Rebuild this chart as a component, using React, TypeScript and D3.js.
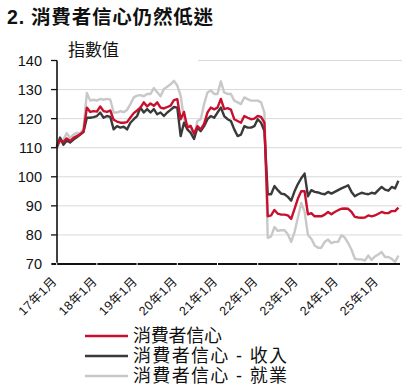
import React from "react";
import * as d3 from "d3";

// Monthly data, 2017-01 (index 0) to 2025-07 (index 102)
const consumer: number[] = [
  110.5, 112.5, 112, 113.2, 112.3, 113.4, 114, 114.6, 115.6, 123.8, 122.3, 122.6,
  122.4, 124.2, 122.6, 122.3, 122.8, 119.6, 119, 118.6, 118.6, 118.8, 120.4, 121.9,
  122.8, 123.8, 125.6, 124.2, 125.2, 124.4, 125.6, 123.8, 123.5, 124, 124.5, 126.4,
  126.7, 119.8, 122.3, 116.9, 117.5, 114.8, 117.4, 116.3, 118.2, 122.1, 123.8, 123.2,
  123.8, 126.8, 123.3, 123.6, 123.1, 119.8, 119.2, 118.6, 120.9, 120.3, 119.8, 120,
  120.9, 120.6, 118.6, 86.4, 86.7, 88.6, 87.3, 87, 87, 86.7, 85.5, 89,
  92.5, 95, 95, 87.1, 87.5, 86.4, 86.4, 86.4, 87, 87.9, 87.1, 87.9,
  88.5, 89, 89.1, 89, 87.9, 86.2, 86, 85.9, 86, 86.7, 86.4, 86.7,
  87.3, 87.9, 87.5, 87.5, 88.2, 88.2, 89.4,
];
const income: number[] = [
  110, 113.5, 111, 112.5, 111.8, 112.8, 113.6, 114.5, 115.4, 120.3, 120.3, 120.5,
  120.9, 122.1, 120.3, 120.9, 120.6, 116.3, 117.4, 116.9, 117.2, 116.3, 118.6, 119.8,
  120.9, 123.8, 122.1, 123.3, 122.1, 123.3, 121.5, 122.1, 120.9, 122.1, 123, 124,
  123.8, 114, 118.6, 116.3, 115.1, 113, 116.9, 115.7, 117.4, 119.8, 120.9, 120.3,
  122.1, 123.8, 120.9, 119.8, 119.2, 116.3, 114, 114.5, 117.4, 116.9, 116.9, 117.4,
  119.8, 118.6, 115.7, 94, 94, 96.8, 95.4, 94.2, 94, 93.1, 91.8, 95,
  97.5, 99.5, 101.1, 93.3, 95.4, 94.8, 94.6, 94.2, 94, 94.8, 94.2, 94.8,
  95.4, 96, 96.5, 97.1, 94.8, 93.3, 94, 94.5, 94.2, 94, 94.5, 94.2,
  95.4, 96.5, 95.6, 95.2, 96.5, 96, 98.6,
];
const employment: number[] = [
  109.5, 112.2, 112.8, 115, 113.4, 114.5, 115.1, 115, 116.5, 128.8, 126.2, 126.5,
  126.2, 126.8, 126.5, 126.8, 126.5, 122.1, 122.1, 122.6, 122.2, 123, 125, 127.3,
  127.9, 128.1, 127.7, 128.5, 128.5, 130.5, 129.1, 127.7, 130.2, 131, 131.8, 133,
  131.4, 127.9, 119.8, 118, 117.4, 113.4, 119.2, 119.8, 125, 129, 129.7, 128.5,
  128.5, 132.8, 129, 128.5, 128.5, 126.2, 125.6, 125, 127.3, 126.7, 126.2, 126.2,
  126.2, 125.6, 122.1, 79, 79.5, 82.7, 81.4, 81.6, 81.6, 80.2, 77.6, 81,
  86, 91, 88, 80, 78.7, 76.4, 75.6, 75.6, 77.6, 78.4, 77.2, 77.6,
  77.6, 79.9, 79.1, 77.2, 74.9, 71.8, 71.6, 71.6, 71.2, 72.9, 71.4, 72.6,
  73.3, 74.1, 72.4, 72.4, 71.8, 70.7, 72.9,
];

const xTickLabels: string[] = ["17年1月", "18年1月", "19年1月", "20年1月", "21年1月", "22年1月", "23年1月", "24年1月", "25年1月"];
const yTicks: number[] = [70, 80, 90, 100, 110, 120, 130, 140];

const seriesNames: string[] = ["消費者信心", "消費者信心 - 收入", "消費者信心 - 就業"];
const seriesColors: string[] = ["#c8102e", "#3a3a3a", "#c8c8c8"];

const FONT = "'Liberation Sans', Arial, 'Noto Sans CJK TC', sans-serif";

export default function App() {
  const x = d3.scaleLinear().domain([0, 102]).range([56.7, 398.4]);
  const y = d3.scaleLinear().domain([70, 140]).range([264, 60.5]);
  const line = d3
    .line<number>()
    .x((_, i) => x(i))
    .y((d) => y(d));

  const series = [employment, income, consumer];
  const colors = [seriesColors[2], seriesColors[1], seriesColors[0]];

  return (
    <svg
      width={409}
      height={388}
      style={{ position: "absolute", left: 0, top: 0, background: "#fff" }}
      fontFamily={FONT}
    >
      <rect x={0} y={0} width={409} height={388} fill="#fff" />
      <text
        x={7}
        y={24}
        fontSize={19.5}
        fontWeight="bold"
        fill="#111"
        textLength={206}
        lengthAdjust="spacing"
      >
        2. 消費者信心仍然低迷
      </text>

      {/* gridlines */}
      {yTicks
        .filter((t) => t !== 70)
        .map((t) => (
          <line
            key={"g" + t}
            x1={t === 140 ? 198 : 57}
            x2={402}
            y1={y(t)}
            y2={y(t)}
            stroke="#d9d9d9"
            strokeWidth={1}
          />
        ))}

      <text x={68} y={56} fontSize={17} fill="#111">
        指數值
      </text>

      {/* y tick labels and ticks */}
      {yTicks.map((t) => (
        <g key={"y" + t}>
          <line x1={51} x2={57} y1={y(t)} y2={y(t)} stroke="#111" strokeWidth={1.3} />
          <text x={42} y={y(t) + 5} fontSize={14.5} textAnchor="end" fill="#111">
            {t}
          </text>
        </g>
      ))}

      {/* series */}
      {series.map((s, i) => (
        <path
          key={"s" + i}
          d={line(s) || ""}
          fill="none"
          stroke={colors[i]}
          strokeWidth={2.4}
          strokeLinejoin="round"
        />
      ))}

      {/* axes */}
      <line x1={57} x2={57} y1={60.5} y2={264} stroke="#111" strokeWidth={1.6} />
      <line x1={52} x2={400} y1={264} y2={264} stroke="#111" strokeWidth={2.2} />
      {xTickLabels.map((lab, i) => {
        const tx = x(i * 12);
        return (
          <g key={"x" + i}>
            <line x1={tx} x2={tx} y1={262.5} y2={265.5} stroke="#fff" strokeWidth={1} />
            <text
              transform={`translate(${tx + 1},${282}) rotate(-45)`}
              textAnchor="end"
              fontSize={12.5}
              letterSpacing={0.5}
              fill="#111"
            >
              {lab}
            </text>
          </g>
        );
      })}

      {/* legend */}
      {seriesNames.map((name, i) => {
        const ly = 336 + i * 20;
        const widths = [89, 154, 154];
        return (
          <g key={"l" + i}>
            <line x1={85} x2={128} y1={ly} y2={ly} stroke={seriesColors[i]} strokeWidth={2.4} />
            <text
              x={133}
              y={ly + 6}
              fontSize={18}
              fill="#111"
              textLength={widths[i]}
              lengthAdjust="spacing"
            >
              {name}
            </text>
          </g>
        );
      })}
    </svg>
  );
}
